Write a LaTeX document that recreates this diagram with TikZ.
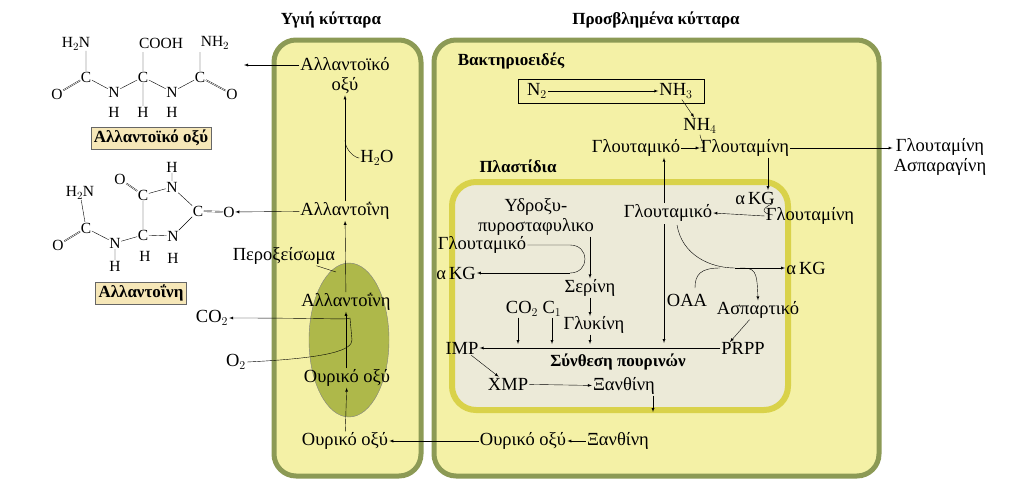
\documentclass[tikz,border=0pt]{standalone}
\usepackage{fontspec}
\setmainfont{Liberation Serif}
\usetikzlibrary{arrows}
\definecolor{cellfill}{HTML}{F4F1A6}
\definecolor{cellrim}{HTML}{8C9A55}
\definecolor{plastrim}{HTML}{D9D24A}
\definecolor{plastfill}{HTML}{ECEAD8}
\definecolor{peroxfill}{HTML}{AEB84A}
\definecolor{labelfill}{HTML}{F6E7B8}
\begin{document}
\begin{tikzpicture}[
  x=1pt,y=-1pt,
  lbl/.style={font=\fontsize{18.5}{20}\selectfont,inner sep=1pt},
  atom/.style={font=\fontsize{15.5}{16}\selectfont,inner sep=0.5pt},
  ttl/.style={font=\fontsize{17}{18}\selectfont\bfseries,inner sep=1pt},
  namebox/.style={draw=black!60,fill=labelfill,font=\fontsize{17}{18}\selectfont\bfseries,inner sep=3pt},
  flow/.style={-latex,thin},
  bond/.style={thin}
  ]
  \useasboundingbox (0,0) rectangle (1023,479);

  % cells
  \draw[line width=5pt,cellrim,fill=cellfill,rounded corners=22pt] (274,40) rectangle (421,476);
  \draw[line width=5pt,cellrim,fill=cellfill,rounded corners=22pt] (434,40) rectangle (879,476);
  \draw[line width=6pt,plastrim,fill=plastfill,rounded corners=24pt] (452,182) rectangle (788,410);
  \fill[peroxfill] (349,340) ellipse (40 and 77);
  \draw[black!50] (349,340) ellipse (40 and 77);

  \node[ttl] (Thealthy) at (331,20) {Υγιή κύτταρα};
  \node[ttl] (Tinfected) at (656,20) {Προσβλημένα κύτταρα};
  \node[ttl] (Tbact) at (511,61) {Βακτηριοειδές};
  \node[ttl] (Tplast) at (518,166) {Πλαστίδια};

  % healthy cell
  \node[lbl,align=center] (NAcid) at (345,76) {Αλλαντοϊκό\\οξύ};
  \node[lbl] (NH2O) at (377,158) {H$_2$O};
  \node[lbl] (NAln) at (345,211) {Αλλαντοΐνη};
  \node[lbl] (NPerox) at (284,256) {Περοξείσωμα};
  \node[lbl] (NAlnP) at (346,302) {Αλλαντοΐνη};
  \node[lbl] (NUricP) at (347,378) {Ουρικό οξύ};
  \node[lbl] (NUric) at (345,441) {Ουρικό οξύ};
  \node[lbl] (NCO2) at (212,318) {CO$_2$};
  \node[lbl] (NO2) at (236,362) {O$_2$};
  \coordinate (Pmid) at (350,318);

  \draw[flow] (NUric) -- (NUricP);
  \draw[flow] (NUricP.north -| NAlnP) -- (NAlnP);
  \draw[flow] (NAlnP) -- (NAln);
  \draw[flow] (NAln) -- (NAcid);
  \draw[thin] (NH2O.west) .. controls (355,158) and (345,150) .. (345,140);
  \draw[thin] (NPerox.south east) ++(-20,0) -- (336,272);
  \draw[thin] (NO2.east) .. controls (330,358) and (352,350) .. (352,340) -- (Pmid);
  \draw[flow] (Pmid) .. controls (348,320) and (330,318) .. (NCO2.east);

  % infected cell
  \node[draw,thick,minimum width=186pt,minimum height=24pt] (Bbox) at (611,91) {};
  \node[lbl] (NN2) at (537,91) {N$_2$};
  \node[lbl] (NNH3) at (676,91) {NH$_3$};
  \node[lbl] (NNH4) at (700,126) {NH$_4$};
  \node[lbl] (NGlu) at (636,148) {Γλουταμικό};
  \node[lbl] (NGln) at (745,148) {Γλουταμίνη};
  \node[lbl,align=center] (NGlnOut) at (940,157) {Γλουταμίνη\\Ασπαραγίνη};
  \draw[flow] (NN2) -- (NNH3);
  \draw[flow] (NNH3) -- (NNH4);
  \draw[flow] (NGlu) -- (NGln);
  \draw[thin] (NNH4.south) .. controls (700,140) and (708,148) .. (NGln.west);
  \draw[flow] (NGln) -- (NGlnOut.west |- NGln);

  % plastid
  \node[lbl,align=center] (NHyd) at (536,217) {Υδροξυ-\\πυροσταφυλικο};
  \node[lbl] (NGluP) at (668,213) {Γλουταμικό};
  \node[lbl] (NaKG1) at (755,198) {α\,KG};
  \node[lbl] (NGlnP) at (810,216) {Γλουταμίνη};
  \node[lbl] (NGluL) at (482,245) {Γλουταμικό};
  \node[lbl] (NaKG2) at (456,273) {α\,KG};
  \node[lbl] (NSer) at (590,288) {Σερίνη};
  \node[lbl] (NaKG3) at (806,268) {α\,KG};
  \node[lbl] (NOAA) at (687,300) {OAA};
  \node[lbl] (NAsp) at (758,310) {Ασπαρτικό};
  \node[lbl] (NCO2P) at (522,309) {CO$_2$};
  \node[lbl] (NC1) at (552,309) {C$_1$};
  \node[lbl] (NGly) at (594,325) {Γλυκίνη};
  \node[lbl] (NIMP) at (462,348) {IMP};
  \node[lbl] (NPRPP) at (743,348) {PRPP};
  \node[ttl] (Tsynth) at (618,362) {Σύνθεση πουρινών};
  \node[lbl] (NXMP) at (508,384) {XMP};
  \node[lbl] (NXan) at (624,386) {Ξανθίνη};
  \node[lbl] (NXanC) at (618,441) {Ξανθίνη};
  \node[lbl] (NUricC) at (523,441) {Ουρικό οξύ};

  \draw[flow] (NGln.south -| 768,0) -- (768,190);
  \draw[flow] (NGlnP.west) -- (NGluP.east);
  \draw[thin] (NaKG1.east) ++(-4,6) .. controls (758,210) and (765,214) .. (773,215);
  \draw[flow] (664,203) -- (NGlu.south -| 664,0);
  \draw[flow] (664,224) -- (664,343);
  \draw[flow] (NHyd.south -| 590,0) -- (NSer);
  \draw[thin] (NGluL.east) -- (570,245) .. controls (590,245) and (590,273) .. (570,273);
  \draw[flow] (570,273) -- (NaKG2);
  \draw[flow] (NSer.south -| 590,0) -- (590,316);
  \draw[thin] (677,225) .. controls (682,255) and (710,268) .. (735,268);
  \draw[flow] (735,268) -- (NaKG3);
  \draw[thin] (695,288) .. controls (695,275) and (700,268) .. (720,268);
  \draw[flow] (740,268) .. controls (755,268) and (757,270) .. (NAsp.north);
  \draw[flow] (NAsp) -- (730,342);
  \draw[flow] (NPRPP) -- (NIMP);
  \draw[flow] (NCO2P.south -| 518,0) -- (518,344);
  \draw[flow] (NC1) -- (552,344);
  \draw[flow] (NGly.south -| 590,0) -- (590,344);
  \draw[flow] (NIMP) -- (NXMP);
  \draw[flow] (NXMP) -- (NXan);
  \draw[flow] (NXan.south -| 653,0) -- (653,412);
  \draw[flow] (NXanC) -- (NUricC);
  \draw[flow] (NUricC) -- (NUric);

  % allantoic acid
  \node[atom] (a1) at (76,44) {H$_2$N};
  \node[atom] (a2) at (86,77) {C};
  \node[atom] (a3) at (57,94) {O};
  \node[atom] (a4) at (114,92) {N};
  \node[atom] (a5) at (114,112) {H};
  \node[atom] (a6) at (143,77) {C};
  \node[atom] (a7) at (161,43) {COOH};
  \node[atom] (a8) at (143,112) {H};
  \node[atom] (a9) at (172,92) {N};
  \node[atom] (a10) at (172,112) {H};
  \node[atom] (a11) at (200,77) {C};
  \node[atom] (a12) at (215,43) {NH$_2$};
  \node[atom] (a13) at (232,94) {O};
  \draw[bond] (a1.south -| a2) -- (a2) (a2) -- (a4) (a4) -- (a6) (a6) -- (a9) (a9) -- (a11)
    (a6) -- (a8) (a6) -- (143,52) (a11) -- (200,52);
  \draw[bond,double] (a2) -- (a3) (a11) -- (a13);
  \draw[flow] (NAcid.west |- 0,65) -- (244,65);
  \node[namebox] (LAcid) at (151,138) {Αλλαντοϊκό οξύ};

  % allantoin
  \node[atom] (b1) at (80,193) {H$_2$N};
  \node[atom] (b2) at (86,228) {C};
  \node[atom] (b3) at (58,245) {O};
  \node[atom] (b4) at (115,243) {N};
  \node[atom] (b5) at (115,266) {H};
  \node[atom] (b6) at (143,235) {C};
  \node[atom] (b7) at (145,256) {H};
  \node[atom] (b8) at (143,195) {C};
  \node[atom] (b9) at (120,179) {O};
  \node[atom] (b10) at (172,187) {N};
  \node[atom] (b11) at (172,167) {H};
  \node[atom] (b12) at (198,211) {C};
  \node[atom] (b13) at (229,212) {O};
  \node[atom] (b14) at (173,236) {N};
  \node[atom] (b15) at (173,258) {H};
  \draw[bond] (b1) -- (b2) (b2) -- (b4) (b4) -- (b6) (b6) -- (b8) (b8) -- (b10) (b10) -- (b12)
    (b12) -- (b14) (b14) -- (b6) (b4) -- (b5) (b10) -- (b11);
  \draw[bond,double] (b2) -- (b3) (b8) -- (b9) (b12) -- (b13);
  \draw[flow] (NAln) -- (b13);
  \node[namebox] (LAln) at (141,293) {Αλλαντοΐνη};
\end{tikzpicture}
\end{document}
